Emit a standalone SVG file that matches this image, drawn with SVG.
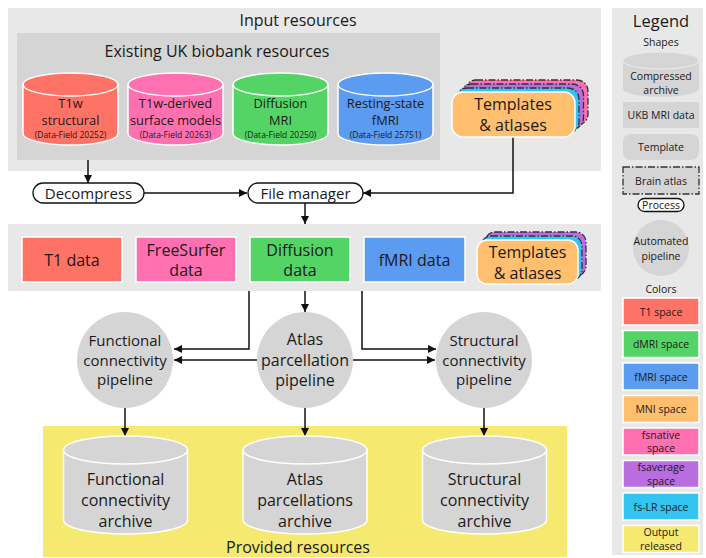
<svg xmlns="http://www.w3.org/2000/svg" width="706" height="558" viewBox="0 0 706 558">
  <defs>
    <marker id="arrow" viewBox="0 0 10 10" refX="10" refY="5" markerWidth="10" markerHeight="8" markerUnits="userSpaceOnUse" orient="auto">
      <path d="M0,0 L10,5 L0,10 Z" fill="#111"/>
    </marker>
    <style>
      text { font-family: "Open Sans", "Noto Sans", "DejaVu Sans", sans-serif; fill: #1a1a1a; text-anchor: middle; dominant-baseline: central; }
      .panel { fill: #e8e8e8; }
      .inner { fill: #d5d5d5; }
      .yellow { fill: #f5e970; }
      .t1 { fill: #ff7366; }
      .fs { fill: #ff70b0; }
      .dmri { fill: #55d466; }
      .fmri { fill: #5b9bf0; }
      .mni { fill: #ffbf6e; }
      .fsavg { fill: #b96ee0; }
      .fslr { fill: #33c5f0; }
      .gray { fill: #d5d5d5; }
      .wb { stroke: #ffffff; stroke-width: 1.5; }
      .atlas { stroke: #333333; stroke-width: 1.3; stroke-dasharray: 7 2 1.5 2; }
      .proc { fill: #ffffff; stroke: #111111; stroke-width: 1.3; }
      .edge { fill: none; stroke: #111111; stroke-width: 1.5; marker-end: url(#arrow); }
      .t13 { font-size: 12.8px; }
      .t8 { font-size: 8.5px; }
      .t15 { font-size: 15px; }
      .t16 { font-size: 16px; }
      .t17 { font-size: 16.5px; }
      .l11 { font-size: 10.5px; }
      .l10 { font-size: 10.5px; }
    </style>
  </defs>

  <!-- Panels -->
  <rect class="panel" x="8" y="8" width="593" height="163"/>
  <text class="t16" x="298" y="20">Input resources</text>
  <rect class="inner" x="17" y="33" width="423" height="127"/>
  <text class="t16" x="217" y="51">Existing UK biobank resources</text>
  <rect class="panel" x="8" y="224" width="593" height="67"/>
  <rect class="yellow" x="43" y="426" width="524" height="131"/>
  <text class="t16" x="298" y="547">Provided resources</text>
  <rect class="panel" x="612" y="8" width="91" height="547"/>

  <!-- Connectors -->
  <g id="connectors">
    <path class="edge" d="M88,160 V183"/>
    <path class="edge" d="M143,193 H247"/>
    <path class="edge" d="M513,137 V193 H363"/>
    <path class="edge" d="M305,203 V224"/>
    <path class="edge" d="M249,291 V349 H174"/>
    <path class="edge" d="M305,291 V312"/>
    <path class="edge" d="M362,291 V349 H436"/>
    <path class="edge" d="M257,360 H174"/>
    <path class="edge" d="M353,360 H435"/>
    <path class="edge" d="M125,408 V436"/>
    <path class="edge" d="M305,408 V436"/>
    <path class="edge" d="M484,408 V436"/>
  </g>

  <!-- Existing UK biobank archives -->
  <g id="t1w-structural">
    <path class="t1 wb" d="M23,84.5 V133.5 A47.5,11.5 0 0 0 118,133.5 V84.5 Z"/>
    <ellipse class="t1 wb" cx="70.5" cy="84.5" rx="47.5" ry="11.5"/>
    <text class="t13" x="70.5" y="102.5">T1w</text>
    <text class="t13" x="70.5" y="119.5">structural</text>
    <text class="t8" x="70.5" y="134.5">(Data-Field 20252)</text>
  </g>
  <g id="t1w-surface">
    <path class="fs wb" d="M128,84.5 V133.5 A47.5,11.5 0 0 0 223,133.5 V84.5 Z"/>
    <ellipse class="fs wb" cx="175.5" cy="84.5" rx="47.5" ry="11.5"/>
    <text class="t13" x="175.5" y="102.5">T1w-derived</text>
    <text class="t13" x="175.5" y="119.5">surface models</text>
    <text class="t8" x="175.5" y="134.5">(Data-Field 20263)</text>
  </g>
  <g id="diffusion-mri">
    <path class="dmri wb" d="M233,84.5 V133.5 A47.5,11.5 0 0 0 328,133.5 V84.5 Z"/>
    <ellipse class="dmri wb" cx="280.5" cy="84.5" rx="47.5" ry="11.5"/>
    <text class="t13" x="280.5" y="102.5">Diffusion</text>
    <text class="t13" x="280.5" y="119.5">MRI</text>
    <text class="t8" x="280.5" y="134.5">(Data-Field 20250)</text>
  </g>
  <g id="resting-fmri">
    <path class="fmri wb" d="M338,84.5 V133.5 A47.5,11.5 0 0 0 433,133.5 V84.5 Z"/>
    <ellipse class="fmri wb" cx="385.5" cy="84.5" rx="47.5" ry="11.5"/>
    <text class="t13" x="385.5" y="102.5">Resting-state</text>
    <text class="t13" x="385.5" y="119.5">fMRI</text>
    <text class="t8" x="385.5" y="134.5">(Data-Field 25751)</text>
  </g>

  <!-- Templates and atlases (input) -->
  <g id="templates-input">
    <rect class="fs atlas" x="465" y="80" width="123" height="45" rx="11"/>
    <rect class="fsavg atlas" x="460.5" y="84" width="123" height="45" rx="11"/>
    <rect class="fslr atlas" x="456" y="88" width="123" height="45" rx="11"/>
    <rect class="mni wb" x="452" y="92" width="123" height="45" rx="11"/>
    <text class="t16" x="513" y="104">Templates</text>
    <text class="t16" x="513" y="125">&amp; atlases</text>
  </g>

  <!-- Processes -->
  <g id="decompress">
    <rect class="proc" x="33" y="183" width="111" height="20" rx="10"/>
    <text class="t15" x="88.5" y="193">Decompress</text>
  </g>
  <g id="file-manager">
    <rect class="proc" x="248" y="183" width="115" height="20" rx="10"/>
    <text class="t15" x="305.5" y="193">File manager</text>
  </g>

  <!-- Managed data -->
  <g id="t1-data">
    <rect class="t1 wb" x="22" y="237" width="100" height="45"/>
    <text class="t16" x="72" y="259.5">T1 data</text>
  </g>
  <g id="freesurfer-data">
    <rect class="fs wb" x="136" y="237" width="100" height="45"/>
    <text class="t16" x="186" y="249.5">FreeSurfer</text>
    <text class="t16" x="186" y="270">data</text>
  </g>
  <g id="diffusion-data">
    <rect class="dmri wb" x="250" y="237" width="100" height="45"/>
    <text class="t16" x="300" y="249.5">Diffusion</text>
    <text class="t16" x="300" y="270">data</text>
  </g>
  <g id="fmri-data">
    <rect class="fmri wb" x="364" y="237" width="101" height="45"/>
    <text class="t16" x="414.5" y="259.5">fMRI data</text>
  </g>
  <g id="templates-managed">
    <rect class="fsavg atlas" x="485" y="232" width="101" height="44" rx="10"/>
    <rect class="fslr atlas" x="481" y="236" width="101" height="44" rx="10"/>
    <rect class="mni wb" x="477" y="240" width="101" height="44" rx="10"/>
    <text class="t16" x="527.5" y="251.5">Templates</text>
    <text class="t16" x="527.5" y="272.5">&amp; atlases</text>
  </g>

  <!-- Pipelines -->
  <g id="functional-pipeline">
    <circle class="gray" cx="125" cy="360" r="48"/>
    <text class="t15" x="125" y="340">Functional</text>
    <text class="t15" x="125" y="359.5">connectivity</text>
    <text class="t15" x="125" y="378.5">pipeline</text>
  </g>
  <g id="atlas-pipeline">
    <circle class="gray" cx="305" cy="360" r="48"/>
    <text class="t16" x="305" y="338.5">Atlas</text>
    <text class="t16" x="305" y="359.5">parcellation</text>
    <text class="t16" x="305" y="380">pipeline</text>
  </g>
  <g id="structural-pipeline">
    <circle class="gray" cx="484" cy="360" r="48"/>
    <text class="t15" x="484" y="340">Structural</text>
    <text class="t15" x="484" y="359.5">connectivity</text>
    <text class="t15" x="484" y="378.5">pipeline</text>
  </g>

  <!-- Released archives -->
  <g id="functional-archive">
    <path class="gray wb" d="M63.5,450 V520 A62,14 0 0 0 187.5,520 V450 Z"/>
    <ellipse class="gray wb" cx="125.5" cy="450" rx="62" ry="14"/>
    <text class="t16" x="125.5" y="478.5">Functional</text>
    <text class="t16" x="125.5" y="499.5">connectivity</text>
    <text class="t16" x="125.5" y="520.5">archive</text>
  </g>
  <g id="atlas-archive">
    <path class="gray wb" d="M243,450 V520 A62,14 0 0 0 367,520 V450 Z"/>
    <ellipse class="gray wb" cx="305" cy="450" rx="62" ry="14"/>
    <text class="t16" x="305" y="478.5">Atlas</text>
    <text class="t16" x="305" y="499.5">parcellations</text>
    <text class="t16" x="305" y="520.5">archive</text>
  </g>
  <g id="structural-archive">
    <path class="gray wb" d="M422.5,450 V520 A62,14 0 0 0 546.5,520 V450 Z"/>
    <ellipse class="gray wb" cx="484.5" cy="450" rx="62" ry="14"/>
    <text class="t16" x="484.5" y="478.5">Structural</text>
    <text class="t16" x="484.5" y="499.5">connectivity</text>
    <text class="t16" x="484.5" y="520.5">archive</text>
  </g>

  <!-- Legend -->
  <g id="legend">
    <text class="t17" x="661" y="20">Legend</text>
    <text class="l10" x="661" y="42">Shapes</text>
    <g id="legend-archive">
      <path class="gray" d="M623,60.5 V88.5 A38,8.5 0 0 0 699,88.5 V60.5 Z"/>
      <ellipse class="gray" cx="661" cy="60.5" rx="38" ry="8.5" stroke="#e8e8e8" stroke-width="1.2"/>
      <text class="l11" x="661" y="76">Compressed</text>
      <text class="l11" x="661" y="89.5">archive</text>
    </g>
    <g id="legend-data">
      <rect class="gray" x="623" y="102" width="76" height="26"/>
      <text class="l11" x="661" y="115">UKB MRI data</text>
    </g>
    <g id="legend-template">
      <rect class="gray" x="623" y="134" width="76" height="26" rx="8"/>
      <text class="l11" x="661" y="147">Template</text>
    </g>
    <g id="legend-atlas">
      <rect class="gray atlas" x="623" y="167" width="76" height="27"/>
      <text class="l11" x="661" y="180.5">Brain atlas</text>
    </g>
    <g id="legend-process">
      <rect class="proc" x="638" y="198.5" width="46" height="13" rx="6.5"/>
      <text class="l10" x="661" y="205">Process</text>
    </g>
    <g id="legend-pipeline">
      <circle class="gray" cx="661" cy="248" r="28"/>
      <text class="l11" x="661" y="241">Automated</text>
      <text class="l11" x="661" y="256">pipeline</text>
    </g>
    <text class="l10" x="661" y="289">Colors</text>
    <g id="legend-t1">
      <rect class="t1 wb" x="623" y="298" width="76" height="27"/>
      <text class="l11" x="661" y="311.5">T1 space</text>
    </g>
    <g id="legend-dmri">
      <rect class="dmri wb" x="623" y="330.5" width="76" height="27"/>
      <text class="l11" x="661" y="344">dMRI space</text>
    </g>
    <g id="legend-fmri">
      <rect class="fmri wb" x="623" y="363" width="76" height="27"/>
      <text class="l11" x="661" y="376.5">fMRI space</text>
    </g>
    <g id="legend-mni">
      <rect class="mni wb" x="623" y="395.5" width="76" height="27"/>
      <text class="l11" x="661" y="409">MNI space</text>
    </g>
    <g id="legend-fsnative">
      <rect class="fs wb" x="623" y="428" width="76" height="27"/>
      <text class="l11" x="661" y="434.75">fsnative</text>
      <text class="l11" x="661" y="448.25">space</text>
    </g>
    <g id="legend-fsaverage">
      <rect class="fsavg wb" x="623" y="460.5" width="76" height="27"/>
      <text class="l11" x="661" y="467.25">fsaverage</text>
      <text class="l11" x="661" y="480.75">space</text>
    </g>
    <g id="legend-fslr">
      <rect class="fslr wb" x="623" y="493" width="76" height="27"/>
      <text class="l11" x="661" y="506.5">fs-LR space</text>
    </g>
    <g id="legend-output">
      <rect class="yellow wb" x="623" y="525.5" width="76" height="27"/>
      <text class="l11" x="661" y="532.25">Output</text>
      <text class="l11" x="661" y="545.75">released</text>
    </g>
  </g>
</svg>
